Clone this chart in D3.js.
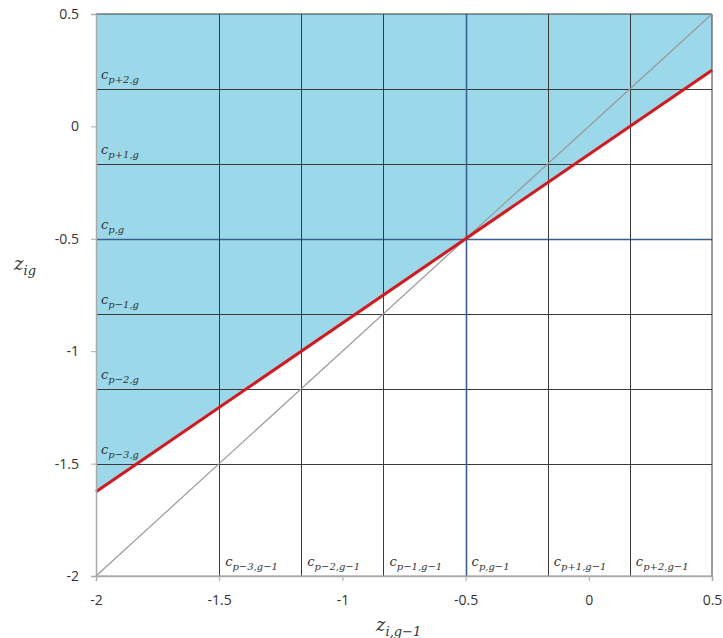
<!DOCTYPE html>
<html><head><meta charset="utf-8">
<script src="https://cdn.jsdelivr.net/npm/d3@7"></script>
<style>body{margin:0;background:#fff}svg{display:block}</style>
</head><body>
<script>
// Data
const xTicks = [-2, -1.5, -1, -0.5, 0, 0.5];
const yTicks = [-2, -1.5, -1, -0.5, 0, 0.5];
const cuts = [-1.5, -7/6, -5/6, -0.5, -1/6, 1/6];
const yCutLabels = ["p\u22123,g", "p\u22122,g", "p\u22121,g", "p,g", "p+1,g", "p+2,g"];
const xCutLabels = ["p\u22123,g\u22121", "p\u22122,g\u22121", "p\u22121,g\u22121", "p,g\u22121", "p+1,g\u22121", "p+2,g\u22121"];
const redLine = [[-2, -1.625], [0.5, 0.25]];
const diagLine = [[-2, -2], [0.5, 0.5]];
const fillRegion = [[-2, 0.5], [0.5, 0.5], [0.5, 0.25], [-2, -1.625]];

const W = 723, H = 638;
const svg = d3.select("body").append("svg").attr("width", W).attr("height", H);
const x = d3.scaleLinear().domain([-2, 0.5]).range([96, 712]);
const y = d3.scaleLinear().domain([-2, 0.5]).range([576, 14]);
const line = d3.line().x(d => x(d[0])).y(d => y(d[1]));
const fmt = d => String(d);

svg.append("path").datum(fillRegion).attr("d", line(fillRegion) + "Z").attr("fill", "#9bd8e9");

// grid
const gridCol = "#3a3a3a";
svg.selectAll(".hg").data(cuts).enter().append("line")
  .attr("x1", x(-2)).attr("x2", x(0.5)).attr("y1", d => Math.round(y(d)) + 0.5).attr("y2", d => Math.round(y(d)) + 0.5)
  .attr("stroke", d => d === -0.5 ? "#3b5f8e" : gridCol).attr("stroke-width", d => d === -0.5 ? 1.6 : 1);
svg.selectAll(".vg").data(cuts).enter().append("line")
  .attr("y1", y(-2)).attr("y2", y(0.5)).attr("x1", d => Math.round(x(d)) + 0.5).attr("x2", d => Math.round(x(d)) + 0.5)
  .attr("stroke", d => d === -0.5 ? "#3b5f8e" : gridCol).attr("stroke-width", d => d === -0.5 ? 1.6 : 1);
// borders
svg.append("line").attr("x1", x(-2)).attr("x2", x(0.5)).attr("y1", y(0.5)).attr("y2", y(0.5)).attr("stroke", gridCol);
svg.append("line").attr("x1", x(0.5)).attr("x2", x(0.5)).attr("y1", y(0.5)).attr("y2", y(-2)).attr("stroke", gridCol);
svg.append("line").attr("x1", x(-2)).attr("x2", x(0.5)).attr("y1", y(-2)).attr("y2", y(-2)).attr("stroke", "#999");

// lines
svg.append("path").datum(diagLine).attr("d", line).attr("stroke", "#999").attr("stroke-width", 1.2).attr("fill", "none");
svg.append("path").datum(redLine).attr("d", line).attr("stroke", "#d8161b").attr("stroke-width", 3).attr("fill", "none");

// axes
const yAxis = svg.append("g").attr("transform", `translate(${x(-2)},0)`)
  .call(d3.axisLeft(y).tickValues(yTicks).tickSize(5).tickPadding(12).tickFormat(fmt));
const xAxis = svg.append("g").attr("transform", `translate(0,${y(-2)})`)
  .call(d3.axisBottom(x).tickValues(xTicks).tickSize(5).tickPadding(14).tickFormat(fmt));
[yAxis, xAxis].forEach(g => {
  g.select(".domain").attr("stroke", "#aaa").attr("stroke-width", 1.5);
  g.selectAll(".tick line").attr("stroke", "#aaa");
  g.selectAll("text").attr("font-family", "Open Sans, sans-serif").attr("font-size", 14).attr("fill", "#333");
});

// cut labels
function subLabel(sel, main, sub, mainSize, subSize, dy) {
  sel.append("tspan").text(main).attr("font-size", mainSize);
  sel.append("tspan").text(sub).attr("font-size", subSize).attr("dy", dy);
}
const labFont = "DejaVu Serif, serif";
cuts.forEach((c, i) => {
  const t = svg.append("text").attr("x", x(-2) + 5).attr("y", y(c) - 10)
    .attr("font-family", labFont).attr("font-style", "italic").attr("fill", "#333");
  subLabel(t, "c", yCutLabels[i], 13, 10, 4);
  const t2 = svg.append("text").attr("x", x(c) + 6).attr("y", y(-2) - 10)
    .attr("font-family", labFont).attr("font-style", "italic").attr("fill", "#333");
  subLabel(t2, "c", xCutLabels[i], 13, 10, 4);
});

// axis titles
const yt = svg.append("text").attr("x", 14).attr("y", 270)
  .attr("font-family", labFont).attr("font-style", "italic").attr("fill", "#333");
subLabel(yt, "z", "ig", 18, 13, 5);
const xt = svg.append("text").attr("x", 376).attr("y", 631)
  .attr("font-family", labFont).attr("font-style", "italic").attr("fill", "#333");
subLabel(xt, "z", "i,g\u22121", 18, 13, 5);
</script>
</body></html>
